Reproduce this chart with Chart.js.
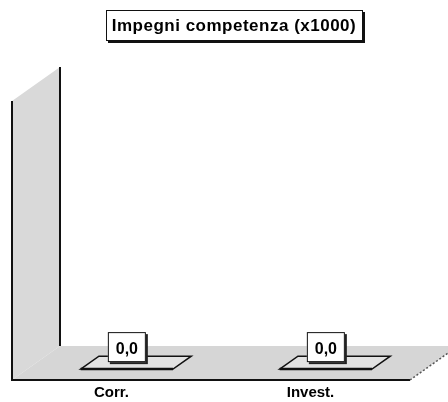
<!DOCTYPE html>
<html>
<head>
<meta charset="utf-8">
<script src="https://cdn.jsdelivr.net/npm/chart.js@4/dist/chart.umd.min.js"></script>
<style>
  html, body { margin: 0; padding: 0; background: #fff; }
  #wrap { width: 448px; height: 402px; }
</style>
</head>
<body>
<div id="wrap"><canvas id="impegniChart"></canvas></div>
<script>
// Dati
const categorie = ['Corr.', 'Invest.'];
const valori = [0, 0];
const titolo = 'Impegni competenza (x1000)';

// profondità 3D (dal piano frontale a quello di fondo)
const DX = 48, DY = -34;
const FONT = "'Liberation Sans', Arial, sans-serif";

function fmt(v) {
    return v.toFixed(1).replace('.', ',');
}

// Pareti e pavimento 3D + barre piatte + titolo incorniciato
const pseudo3d = {
    id: 'pseudo3d',
    beforeDatasetsDraw(chart) {
        const ctx = chart.ctx;
        const a = chart.chartArea;
        ctx.save();
        // parete sinistra
        ctx.fillStyle = '#d9d9d9';
        ctx.beginPath();
        ctx.moveTo(a.left, a.top);
        ctx.lineTo(a.left + DX, a.top + DY);
        ctx.lineTo(a.left + DX, a.bottom + DY);
        ctx.lineTo(a.left, a.bottom);
        ctx.closePath();
        ctx.fill();
        // pavimento
        ctx.fillStyle = '#d6d6d6';
        ctx.beginPath();
        ctx.moveTo(a.left, a.bottom);
        ctx.lineTo(a.left + DX, a.bottom + DY);
        ctx.lineTo(a.right + DX, a.bottom + DY);
        ctx.lineTo(a.right, a.bottom);
        ctx.closePath();
        ctx.fill();
        // linee
        ctx.strokeStyle = '#111';
        ctx.lineWidth = 2;
        ctx.beginPath();
        ctx.moveTo(a.left, a.top);
        ctx.lineTo(a.left, a.bottom);
        ctx.lineTo(a.right, a.bottom);
        ctx.moveTo(a.left + DX, a.top + DY);
        ctx.lineTo(a.left + DX, a.bottom + DY);
        ctx.stroke();
        ctx.setLineDash([2, 2]);
        ctx.lineWidth = 1.5;
        ctx.strokeStyle = '#555';
        ctx.beginPath();
        ctx.moveTo(a.right, a.bottom);
        ctx.lineTo(a.right + DX, a.bottom + DY);
        ctx.stroke();
        ctx.restore();
    },
    afterDatasetsDraw(chart) {
        const ctx = chart.ctx;
        const meta = chart.getDatasetMeta(0);
        const d0 = 0.32, d1 = 0.70;
        ctx.save();
        meta.data.forEach((bar, i) => {
            const p = bar.getProps(['x', 'y', 'width'], true);
            const half = p.width / 2;
            const y0 = p.y + DY * d0, y1 = p.y + DY * d1;
            const x0 = p.x + DX * d0, x1 = p.x + DX * d1;
            // barra a valore zero: parallelogramma sul pavimento
            ctx.fillStyle = '#e2e2e2';
            ctx.strokeStyle = '#111';
            ctx.lineWidth = 1.5;
            ctx.beginPath();
            ctx.moveTo(x0 - half, y0);
            ctx.lineTo(x1 - half, y1);
            ctx.lineTo(x1 + half, y1);
            ctx.lineTo(x0 + half, y0);
            ctx.closePath();
            ctx.fill();
            ctx.stroke();
            ctx.lineWidth = 2.5;
            ctx.beginPath();
            ctx.moveTo(x0 - half, y0);
            ctx.lineTo(x0 + half, y0);
            ctx.stroke();
            // etichetta valore
            const bw = 38, bh = 30;
            const bx = x0 - bw / 2, by = y0 - 37;
            ctx.fillStyle = '#222';
            ctx.fillRect(bx + 2, by + 2, bw, bh);
            ctx.fillStyle = '#fff';
            ctx.fillRect(bx, by, bw, bh);
            ctx.lineWidth = 1;
            ctx.strokeRect(bx + 0.5, by + 0.5, bw - 1, bh - 1);
            ctx.fillStyle = '#000';
            ctx.font = 'bold 16px ' + FONT;
            ctx.textAlign = 'center';
            ctx.textBaseline = 'middle';
            ctx.fillText(fmt(valori[i]), x0, by + bh / 2 + 2);
        });
        ctx.restore();
    },
    afterDraw(chart) {
        // titolo con cornice e ombra
        const ctx = chart.ctx;
        ctx.save();
        ctx.font = 'bold 17px ' + FONT;
        ctx.letterSpacing = '0.5px';
        const cx = 234;
        const bx = 106, by = 10, bw = 256, bh = 30;
        ctx.fillStyle = '#fff';
        ctx.fillRect(bx, by, bw, bh);
        ctx.strokeStyle = '#111';
        ctx.lineWidth = 1;
        ctx.strokeRect(bx + 0.5, by + 0.5, bw, bh);
        ctx.lineWidth = 2;
        ctx.beginPath();
        ctx.moveTo(bx + bw + 2, by + 2);
        ctx.lineTo(bx + bw + 2, by + bh + 2);
        ctx.lineTo(bx + 2, by + bh + 2);
        ctx.stroke();
        ctx.fillStyle = '#000';
        ctx.textAlign = 'center';
        ctx.textBaseline = 'middle';
        ctx.fillText(titolo, cx, by + bh / 2 + 1);
        ctx.restore();
    }
};

const ctx = document.getElementById('impegniChart');
new Chart(ctx, {
    type: 'bar',
    data: {
        labels: categorie,
        datasets: [{
            label: titolo,
            data: valori,
            backgroundColor: 'rgba(0,0,0,0)',
            borderWidth: 0,
            categoryPercentage: 0.8,
            barPercentage: 0.58
        }]
    },
    options: {
        responsive: true,
        maintainAspectRatio: false,
        animation: false,
        layout: {
            padding: { left: 12, right: 38, top: 101, bottom: -4 }
        },
        plugins: {
            legend: { display: false },
            tooltip: { enabled: false },
            title: { display: false }
        },
        scales: {
            x: {
                grid: { display: false, drawTicks: false },
                border: { display: false },
                ticks: {
                    color: '#000',
                    padding: 4,
                    font: { family: FONT, size: 15, weight: 'bold' }
                }
            },
            y: {
                display: false,
                min: 0,
                max: 1
            }
        }
    },
    plugins: [pseudo3d]
});
</script>
</body>
</html>
